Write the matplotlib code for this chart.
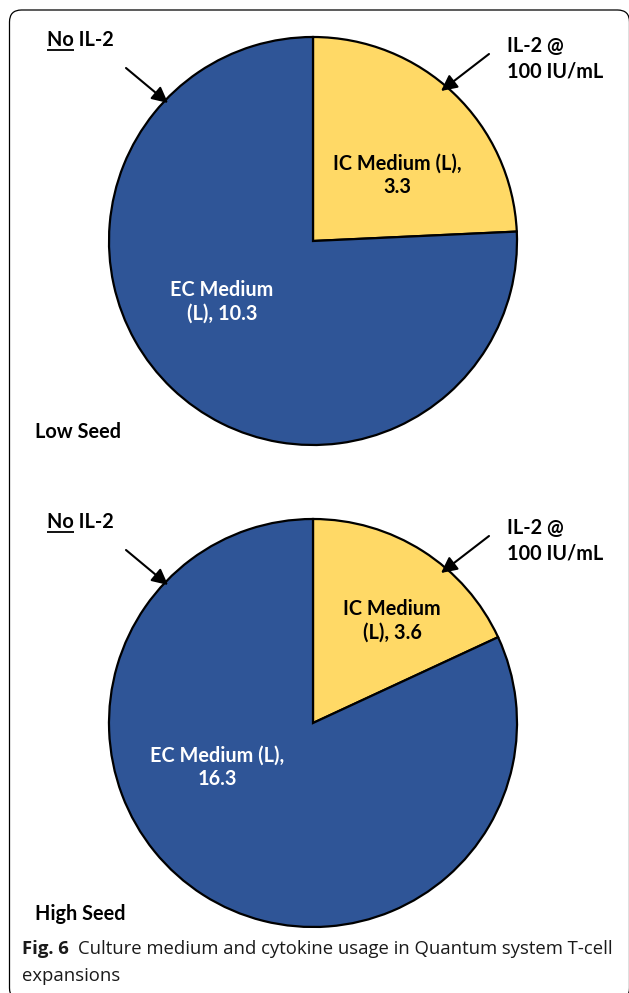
import matplotlib
matplotlib.use("Agg")
import matplotlib.pyplot as plt
from matplotlib.patches import FancyBboxPatch

# Medium usage (litres) for the two seeding densities
panels = ["Low Seed", "High Seed"]
ic_medium = [3.3, 3.6]
ec_medium = [10.3, 16.3]

ic_color = "#FFD966"
ec_color = "#2F5597"

W, H = 629, 993
fig = plt.figure(figsize=(W / 100, H / 100), dpi=100)
ax = fig.add_axes([0, 0, 1, 1])

def Y(y):
    # pixel rows are counted from the top
    return H - y

def set_limits():
    ax.set_xlim(0, W)
    ax.set_ylim(0, H)
    ax.set_aspect("auto")

label_font = dict(family="Lato", fontweight="bold", fontsize=14.3)

layout = [
    dict(cy=241, top=40, ic_xy=(397, 175), ec_xy=(222, 302),
         ic_txt="IC Medium (L),\n{:.1f}", ec_txt="EC Medium\n(L), {:.1f}"),
    dict(cy=723, top=522, ic_xy=(392, 621), ec_xy=(217, 767),
         ic_txt="IC Medium\n(L), {:.1f}", ec_txt="EC Medium (L),\n{:.1f}"),
]

renderer = fig.canvas.get_renderer()

for i, lay in enumerate(layout):
    cy = lay["cy"]
    ax.pie([ic_medium[i], ec_medium[i]], center=(313, Y(cy)), radius=204,
           startangle=90, counterclock=False, colors=[ic_color, ec_color],
           wedgeprops=dict(edgecolor="black", linewidth=1.6))
    set_limits()

    ax.text(lay["ic_xy"][0], Y(lay["ic_xy"][1]), lay["ic_txt"].format(ic_medium[i]),
            ha="center", va="center", color="black", linespacing=1.2, **label_font)
    ax.text(lay["ec_xy"][0], Y(lay["ec_xy"][1]), lay["ec_txt"].format(ec_medium[i]),
            ha="center", va="center", color="white", linespacing=1.2, **label_font)

    # "No IL-2" with underlined "No"
    top = lay["top"]
    ax.text(47, Y(top), "No IL-2", ha="left", va="center", **label_font)
    probe = ax.text(47, Y(top), "No", ha="left", va="center", alpha=0, **label_font)
    bb = probe.get_window_extent(renderer)
    ax.plot([bb.x0, bb.x1], [Y(top + 10), Y(top + 10)], color="black", lw=1.3,
            solid_capstyle="butt")

    ax.text(507, Y(top + 19), "IL-2 @\n100 IU/mL", ha="left", va="center",
            linespacing=1.35, **label_font)

    arrow = dict(arrowstyle="-|>", color="black", lw=1.5, mutation_scale=24,
                 shrinkA=0, shrinkB=0)
    ax.annotate("", xy=(168, Y(top + 63)), xytext=(126, Y(top + 28)), arrowprops=arrow)
    ax.annotate("", xy=(441, Y(top + 51)), xytext=(489, Y(top + 14)), arrowprops=arrow)

    ax.text(35, Y(cy + 191), panels[i], ha="left", va="center", **label_font)

# Caption
cap_font = dict(family="Open Sans", fontsize=13.3, color="#1a1a1a")
ax.text(22, Y(949), "Fig. 6", ha="left", va="center", fontweight="bold", **cap_font)
ax.text(78, Y(949), "Culture medium and cytokine usage in Quantum system T-cell",
        ha="left", va="center", **cap_font)
ax.text(22, Y(976), "expansions", ha="left", va="center", **cap_font)

# Rounded frame around the figure
frame = FancyBboxPatch((9.5, Y(1000)), 620, 990,
                       boxstyle="round,pad=0,rounding_size=12",
                       fill=False, edgecolor="black", lw=0.9)
ax.add_patch(frame)

set_limits()
ax.set_axis_off()

fig.savefig("out.png", dpi=100)
